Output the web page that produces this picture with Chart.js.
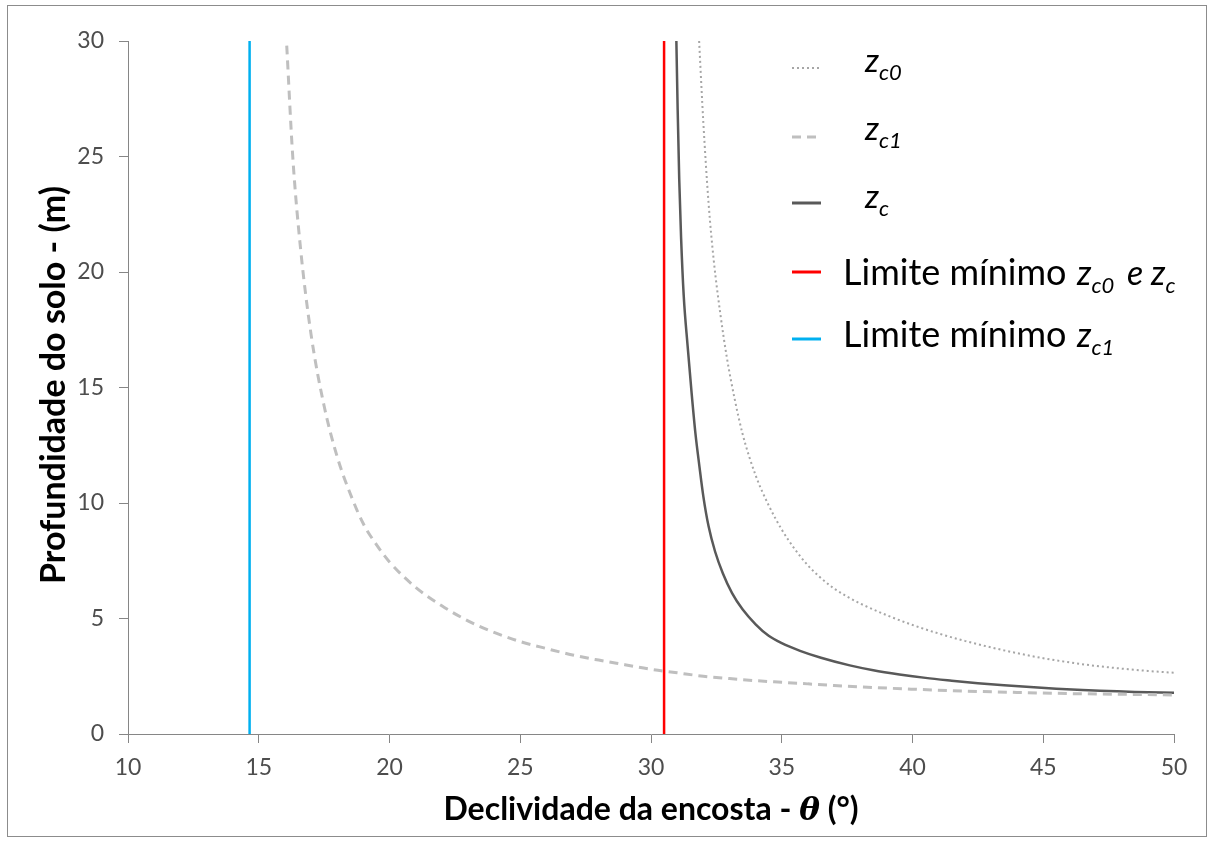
<!DOCTYPE html>
<html><head><meta charset="utf-8">
<script src="https://cdn.jsdelivr.net/npm/chart.js@4.4.1/dist/chart.umd.min.js"></script>
<style>html,body{margin:0;padding:0;background:#fff;}canvas{display:block;}</style>
</head><body>
<canvas id="c" width="1213" height="841"></canvas>
<script>
// ---- data ----
const xTicks = [10, 15, 20, 25, 30, 35, 40, 45, 50];
const yTicks = [0, 5, 10, 15, 20, 25, 30];

const zc0X = [31.84,32.0,32.2,32.4,32.65,32.9,33.2,33.5,34.0,34.5,35.0,35.5,36.0,36.5,37.0,37.5,38.0,39.0,40.0,41.0,42.0,43.0,44.0,45.0,46.0,47.0,48.0,49.0,50.0];
const zc0Y = [30,26.5,23.0,20.5,18.2,16.3,14.5,13.0,11.2,9.9,8.85,8.0,7.3,6.75,6.3,5.95,5.65,5.15,4.72,4.35,4.03,3.75,3.5,3.28,3.1,2.95,2.83,2.73,2.65];

const zc1X = [16.07,16.3,16.6,17.0,17.5,18.0,18.5,19.0,19.5,20,21,22,23,24,25,26,27,28,29,30,31,32,33,34,35,36,37,38,40,42,44,46,48,50];
const zc1Y = [29.8,25.0,21.0,17.3,14.2,12.0,10.4,9.1,8.2,7.45,6.35,5.55,4.9,4.4,4.0,3.7,3.42,3.2,3.0,2.8,2.65,2.5,2.4,2.31,2.24,2.17,2.1,2.04,1.94,1.86,1.8,1.75,1.72,1.69];

const zcX = [30.97,31.02,31.08,31.15,31.25,31.4,31.55,31.7,31.85,32.0,32.2,32.45,32.75,33.1,33.5,34.0,34.5,35.0,35.7,36.5,37.6,38.5,39.5,40.5,41.5,42.5,43.5,44.5,45.5,46.5,47.5,48.5,50];
const zcY = [30,27,24,21.5,19,16.8,14.8,13.0,11.6,10.3,9.0,7.9,6.95,6.1,5.4,4.75,4.25,3.93,3.6,3.3,2.97,2.76,2.58,2.43,2.31,2.2,2.11,2.03,1.96,1.9,1.86,1.82,1.79];

const limZc0X = [30.5, 30.5];
const limZc0Y = [0, 30];
const limZc1X = [14.65, 14.65];
const limZc1Y = [0, 30];

const xTitle = ['Declividade da encosta - ', 'θ', ' (°)'];
const yTitle = 'Profundidade do solo - (m)';

// ---- helpers ----
const pts = (xs, ys) => xs.map((x, i) => ({x: x, y: ys[i]}));

const C_DOT = '#a6a6a6', C_DASH = '#bfbfbf', C_SOLID = '#595959', C_RED = '#ff0000', C_BLUE = '#00b0f0';

const legendRows = [
  {y: 68, base: 72, x: 865, color: C_DOT, dash: [2, 3], w: 2,
   parts: [{t: 'z', f: 'italic 33px Lato'}, {t: 'c0', f: 'italic 22px Lato', dy: 8}]},
  {y: 137, base: 140, x: 865, color: C_DASH, dash: [9, 6], w: 3,
   parts: [{t: 'z', f: 'italic 33px Lato'}, {t: 'c1', f: 'italic 22px Lato', dy: 8}]},
  {y: 203, base: 208, x: 865, color: C_SOLID, dash: [], w: 3,
   parts: [{t: 'z', f: 'italic 33px Lato'}, {t: 'c', f: 'italic 22px Lato', dy: 8}]},
  {y: 272, base: 285, x: 843, color: C_RED, dash: [], w: 3,
   parts: [{t: 'Limite mínimo', f: '36px Lato'}, {t: 'z', f: 'italic 34px Lato', x: 1077}, {t: 'c0', f: 'italic 22px Lato', dy: 8},
           {t: 'e', f: 'italic 34px Lato', x: 1127}, {t: 'z', f: 'italic 34px Lato', x: 1151}, {t: 'c', f: 'italic 22px Lato', dy: 8}]},
  {y: 339, base: 347, x: 843, color: C_BLUE, dash: [], w: 3,
   parts: [{t: 'Limite mínimo', f: '36px Lato'}, {t: 'z', f: 'italic 34px Lato', x: 1077}, {t: 'c1', f: 'italic 22px Lato', dy: 8}]}
];

function drawParts(ctx, x, base, parts) {
  let cx = x;
  parts.forEach(p => {
    if (p.x !== undefined) cx = p.x;
    ctx.font = p.f;
    ctx.fillText(p.t, cx, base + (p.dy || 0));
    cx += ctx.measureText(p.t).width;
  });
  return cx - x;
}

const overlay = {
  id: 'overlay',
  afterDraw(chart) {
    const ctx = chart.ctx;
    ctx.save();
    // outer frame
    ctx.strokeStyle = '#8c8c8c';
    ctx.lineWidth = 1;
    ctx.strokeRect(7.5, 5.5, 1199, 831);
    // legend
    ctx.fillStyle = '#000';
    ctx.textBaseline = 'alphabetic';
    ctx.textAlign = 'left';
    legendRows.forEach(r => {
      ctx.beginPath();
      ctx.strokeStyle = r.color;
      ctx.lineWidth = r.w;
      ctx.setLineDash(r.dash);
      ctx.moveTo(792, r.y);
      ctx.lineTo(821, r.y);
      ctx.stroke();
      ctx.setLineDash([]);
      drawParts(ctx, r.x, r.base, r.parts);
    });
    // x title
    const xParts = [
      {t: xTitle[0], f: 'bold 32px Lato'},
      {t: xTitle[1], f: 'bold italic 31px "DejaVu Serif"'},
      {t: xTitle[2], f: 'bold 32px Lato'}
    ];
    let w = 0;
    xParts.forEach(p => { ctx.font = p.f; w += ctx.measureText(p.t).width; });
    const ca = chart.chartArea;
    const cxm = (ca.left + ca.right) / 2;
    drawParts(ctx, cxm - w / 2, 820, xParts);
    // y title
    ctx.save();
    ctx.translate(65, 584);
    ctx.rotate(-Math.PI / 2);
    ctx.font = 'bold 34px Lato';
    ctx.textAlign = 'left';
    ctx.fillText(yTitle, 0, 0);
    ctx.restore();
    ctx.restore();
  }
};

const axisCommon = {
  type: 'linear',
  grid: {display: true, drawOnChartArea: false, drawTicks: true, tickLength: 9, color: '#868686', lineWidth: 1},
  border: {display: true, color: '#868686', width: 1},
  ticks: {color: '#4d4d4d', font: {family: 'Lato', size: 23}}
};

new Chart(document.getElementById('c').getContext('2d'), {
  type: 'scatter',
  data: {
    datasets: [
      {label: 'zc0', data: pts(zc0X, zc0Y), showLine: true, borderColor: C_DOT, borderWidth: 2, borderDash: [2, 3],
       pointRadius: 0, cubicInterpolationMode: 'monotone'},
      {label: 'zc1', data: pts(zc1X, zc1Y), showLine: true, borderColor: C_DASH, borderWidth: 3, borderDash: [9, 6],
       pointRadius: 0, cubicInterpolationMode: 'monotone'},
      {label: 'zc', data: pts(zcX, zcY), showLine: true, borderColor: C_SOLID, borderWidth: 2.5,
       pointRadius: 0, cubicInterpolationMode: 'monotone'},
      {label: 'Limite mínimo zc0 e zc', data: pts(limZc0X, limZc0Y), showLine: true, borderColor: C_RED, borderWidth: 2.5, pointRadius: 0},
      {label: 'Limite mínimo zc1', data: pts(limZc1X, limZc1Y), showLine: true, borderColor: C_BLUE, borderWidth: 2.5, pointRadius: 0}
    ]
  },
  options: {
    responsive: false,
    animation: false,
    devicePixelRatio: 1,
    layout: {padding: {top: 41, right: 39, left: 0, bottom: 0}},
    plugins: {legend: {display: false}, tooltip: {enabled: false}},
    scales: {
      x: Object.assign({}, axisCommon, {
        min: 10, max: 50, position: 'bottom',
        afterFit(s) { s.height = 107; },
        afterBuildTicks(s) { s.ticks = xTicks.map(v => ({value: v})); },
        ticks: Object.assign({}, axisCommon.ticks, {padding: 11, maxRotation: 0, autoSkip: false})
      }),
      y: Object.assign({}, axisCommon, {
        min: 0, max: 30, position: 'left',
        afterFit(s) { s.width = 128; },
        afterBuildTicks(s) { s.ticks = yTicks.map(v => ({value: v})); },
        ticks: Object.assign({}, axisCommon.ticks, {padding: 15, autoSkip: false})
      })
    }
  },
  plugins: [overlay]
});
</script>
</body></html>
